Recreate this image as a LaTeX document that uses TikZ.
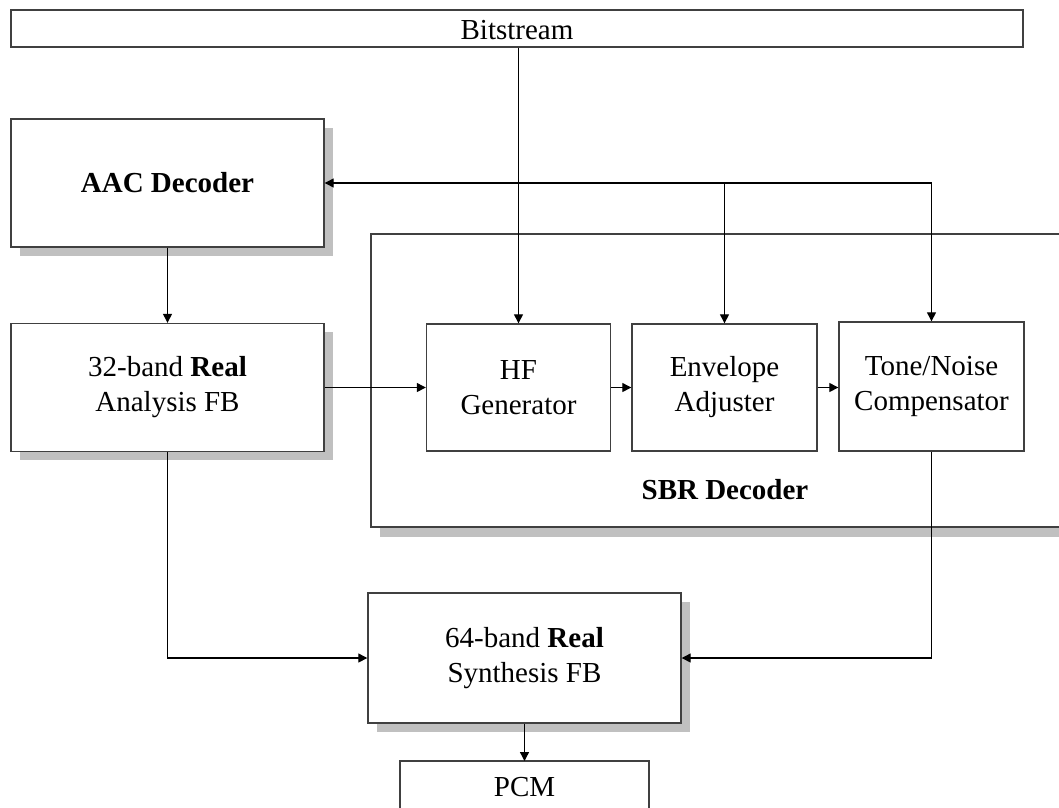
\documentclass[tikz,border=0pt]{standalone}
\usepackage{fontspec}
\setmainfont{Liberation Serif}
\usetikzlibrary{arrows.meta}
\definecolor{boxline}{RGB}{64,64,64}
\definecolor{shadowgray}{RGB}{192,192,192}
\begin{document}
\begin{tikzpicture}[x=1pt,y=-1pt,
  box/.style={draw=boxline, line width=1.4pt, fill=white, inner sep=0pt, align=center,
    font=\fontsize{29}{35}\selectfont},
  conn/.style={draw=black, line width=1.3pt},
  arr/.style={conn, -{Triangle[length=9pt,width=9pt]}},
  lbl/.style={inner sep=0pt, font=\fontsize{29}{35}\selectfont}
]
\useasboundingbox (0,0) rectangle (1059,807);
\fill[white] (0,0) rectangle (1059,807);

% shadows
\fill[shadowgray] (20,128) rectangle (333,256);
\fill[shadowgray] (20,332) rectangle (333,460);
\fill[shadowgray] (380,243) rectangle (1059,537);
\fill[shadowgray] (377,602) rectangle (690,732);

% SBR container
\fill[white] (371,234) rectangle (1059,527);
\coordinate (sbrtr) at (1059,234);
\coordinate (sbrtl) at (371,234);
\coordinate (sbrbl) at (371,527);
\coordinate (sbrbr) at (1059,527);
\draw[boxline, line width=1.4pt] (sbrtr) -- (sbrtl) -- (sbrbl) -- (sbrbr);
\node[lbl, font=\fontsize{29}{35}\selectfont\bfseries] (sbrlabel) at (725,490) {SBR Decoder};

% boxes
\node[box, minimum width=1012pt, minimum height=37pt] (bit) at (517,28.5) {};
\node[lbl] (bittext) at (517,30) {Bitstream};
\node[box, minimum width=313pt, minimum height=128pt] (aac) at (167.5,183) {\textbf{AAC Decoder}};
\node[box, minimum width=313pt, minimum height=128pt] (ana) at (167.5,387.5) {32-band \textbf{Real}\\Analysis FB};
\node[box, minimum width=184pt, minimum height=127pt] (hf) at (518.5,387.5) {HF\\Generator};
\node[box, minimum width=185pt, minimum height=127pt] (env) at (724.5,387.5) {Envelope\\Adjuster};
\node[box, minimum width=185pt, minimum height=129pt] (tone) at (931.5,386.5) {Tone/Noise\\Compensator};
\node[box, minimum width=313pt, minimum height=130pt] (syn) at (524.5,658) {64-band \textbf{Real}\\Synthesis FB};

% PCM (cut at bottom edge)
\coordinate (pcmbl) at (400,808);
\coordinate (pcmbr) at (649,808);
\coordinate (pcmtop) at (524.5,761);
\draw[boxline, line width=1.4pt] (pcmbl) |- (pcmbr |- pcmtop) -- (pcmbr);
\node[lbl] (pcm) at (524.5,787) {PCM};

% connectors
\draw[arr] (hf.north |- bit.south) -- (hf.north);
\draw[arr] (tone.north |- aac.east) -- (aac.east);
\draw[arr] (env.north |- aac.east) -- (env.north);
\draw[arr] (tone.north |- aac.east) -- (tone.north);
\draw[arr] (aac.south) -- (ana.north);
\draw[arr] (ana.east) -- (ana.east -| hf.west);
\draw[arr] (hf.east) -- (env.west);
\draw[arr] (env.east) -- (env.east -| tone.west);
\draw[arr] (ana.south) |- (syn.west);
\draw[arr] (tone.south) |- (syn.east);
\draw[arr] (syn.south) -- (pcmtop);
\end{tikzpicture}
\end{document}
